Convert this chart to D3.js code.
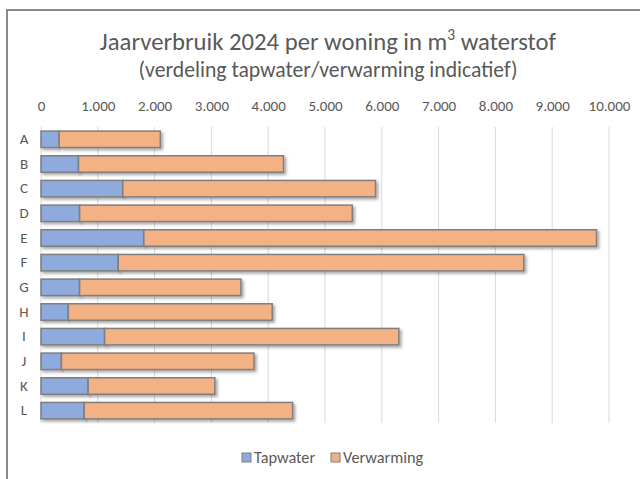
<!DOCTYPE html>
<html>
<head>
<meta charset="utf-8">
<script src="https://cdn.jsdelivr.net/npm/d3@7"></script>
<style>
  html, body { margin: 0; padding: 0; background: #fff; }
  svg { display: block; font-family: Carlito, Calibri, Lato, sans-serif; }
</style>
</head>
<body>
<svg id="chart" width="640" height="479"></svg>
<script>
// categories (woningen) and the two stacked series
const categories = ['A', 'B', 'C', 'D', 'E', 'F', 'G', 'H', 'I', 'J', 'K', 'L'];
const tapwater = [320, 660, 1440, 680, 1810, 1360, 680, 480, 1120, 360, 830, 760];
const verwarming = [1780, 3610, 4450, 4800, 7970, 7140, 2840, 3590, 5180, 3390, 2230, 3670];
const tickValues = [0, 1000, 2000, 3000, 4000, 5000, 6000, 7000, 8000, 9000, 10000];
const seriesNames = ['Tapwater', 'Verwarming'];
const colors = ['#8faadc', '#f4b183'];

const font = 'Carlito, Calibri, Lato, sans-serif';
const svg = d3.select('#chart');

// outer chart frame (runs off the right/bottom of the picture)
svg.append('rect')
  .attr('x', 7).attr('y', 10)
  .attr('width', 660).attr('height', 500)
  .attr('fill', 'none')
  .attr('stroke', '#8a8a8a')
  .attr('stroke-width', 2);

// drop shadow for the bars
const defs = svg.append('defs');
const filter = defs.append('filter').attr('id', 'shadow')
  .attr('x', '-5%').attr('y', '-30%').attr('width', '115%').attr('height', '180%');
filter.append('feDropShadow')
  .attr('dx', 2).attr('dy', 2).attr('stdDeviation', 1.5)
  .attr('flood-color', '#000').attr('flood-opacity', 0.35);

// titles
const title = svg.append('text')
  .attr('x', 328).attr('y', 49.5)
  .attr('text-anchor', 'middle')
  .attr('font-size', 24.7)
  .attr('fill', '#595959');
title.append('tspan').text('Jaarverbruik 2024 per woning in m');
title.append('tspan').attr('font-size', 15.5).attr('dy', -10).text('3');
title.append('tspan').attr('dy', 10).text(' waterstof');

svg.append('text')
  .attr('x', 328).attr('y', 77)
  .attr('text-anchor', 'middle')
  .attr('font-size', 21.7)
  .attr('fill', '#595959')
  .text('(verdeling tapwater/verwarming indicatief)');

// scales
const x = d3.scaleLinear().domain([0, 10000]).range([41, 609]);
const y = d3.scaleBand().domain(categories).range([127, 423]).paddingInner(0.333).paddingOuter(0.1665);

// gridlines
svg.append('g').selectAll('line')
  .data(tickValues)
  .join('line')
  .attr('x1', d => x(d)).attr('x2', d => x(d))
  .attr('y1', 127).attr('y2', 423)
  .attr('stroke', '#d9d9d9')
  .attr('stroke-width', 1);

// top tick labels (Dutch thousands separator)
const fmt = d3.formatLocale({ decimal: ',', thousands: '.', grouping: [3], currency: ['€', ''] }).format(',');
const xAxis = d3.axisTop(x).tickValues(tickValues).tickFormat(fmt).tickSize(0).tickPadding(0);
svg.append('g')
  .attr('transform', 'translate(0,111)')
  .call(xAxis)
  .call(g => g.select('.domain').remove())
  .call(g => g.selectAll('text')
    .attr('dy', 0)
    .attr('font-family', font)
    .attr('font-size', 15)
    .attr('fill', '#595959'));

// category labels
const yAxis = d3.axisLeft(y).tickSize(0).tickPadding(0);
svg.append('g')
  .attr('transform', 'translate(24,0)')
  .call(yAxis)
  .call(g => g.select('.domain').remove())
  .call(g => g.selectAll('text')
    .attr('text-anchor', 'middle')
    .attr('font-family', font)
    .attr('font-size', 15)
    .attr('fill', '#595959'));

// stacked bars
const rows = categories.map((c, i) => ({ cat: c, Tapwater: tapwater[i], Verwarming: verwarming[i] }));
const stacked = d3.stack().keys(seriesNames)(rows);

svg.append('g')
  .selectAll('g')
  .data(stacked)
  .join('g')
  .attr('fill', (d, i) => colors[i])
  .selectAll('rect')
  .data(d => d)
  .join('rect')
  .attr('x', d => x(d[0]))
  .attr('y', d => y(d.data.cat))
  .attr('width', d => x(d[1]) - x(d[0]))
  .attr('height', y.bandwidth())
  .attr('stroke', '#7f7f7f')
  .attr('stroke-width', 1.5)
  .attr('filter', 'url(#shadow)');

// legend
const legend = svg.append('g').attr('transform', 'translate(242,0)');
const legendX = [0, 89];
seriesNames.forEach((name, i) => {
  const item = legend.append('g').attr('transform', `translate(${legendX[i]},0)`);
  item.append('rect')
    .attr('x', 0).attr('y', 453)
    .attr('width', 9).attr('height', 9)
    .attr('fill', colors[i])
    .attr('stroke', '#7f7f7f').attr('stroke-width', 1);
  item.append('text')
    .attr('x', 12).attr('y', 463)
    .attr('font-size', 16.3)
    .attr('fill', '#595959')
    .text(name);
});
</script>
</body>
</html>
